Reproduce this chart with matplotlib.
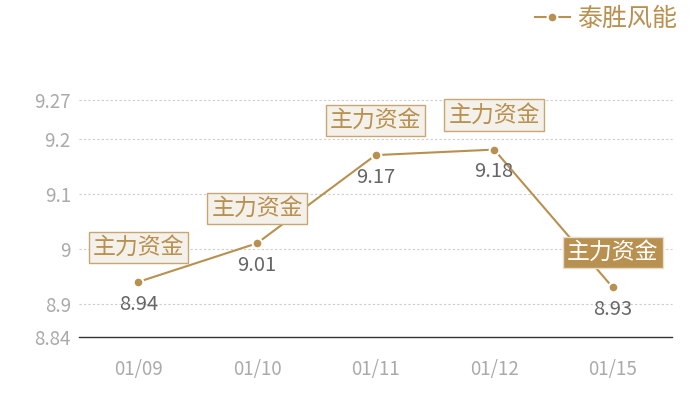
import matplotlib
matplotlib.use('Agg')
from matplotlib import pyplot as plt

plt.rcParams['font.family'] = ['Noto Sans CJK SC', 'DejaVu Sans']

dates = ['01/09', '01/10', '01/11', '01/12', '01/15']
prices = [8.94, 9.01, 9.17, 9.18, 8.93]
mark_text = '主力资金'
highlight = [False, False, False, False, True]
y_ticks = [8.84, 8.9, 9, 9.1, 9.2, 9.27]
y_tick_labels = ['8.84', '8.9', '9', '9.1', '9.2', '9.27']
series_name = '泰胜风能'

gold = '#b8904f'

fig = plt.figure(figsize=(7, 4), dpi=100)
ax = fig.add_axes([0.113, 0.1575, 0.847, 0.5925])

x = list(range(len(dates)))
line, = ax.plot(x, prices, color=gold, lw=1.5, marker='o', markersize=7,
                markerfacecolor=gold, markeredgecolor='white', markeredgewidth=1.5,
                zorder=3, clip_on=False, label=series_name)

for i, v in enumerate(prices):
    ax.annotate(f'{v:g}', (i, v), xytext=(0, -16), textcoords='offset points',
                ha='center', va='center', fontsize=14.5, color='#666666', zorder=4)
    if highlight[i]:
        box = dict(boxstyle='square,pad=0.18', fc=gold, ec='#e8dccb', lw=1)
        tc = 'white'
    else:
        box = dict(boxstyle='square,pad=0.18', fc='#f4f0ea', ec='#c9a772', lw=1)
        tc = gold
    ax.annotate(mark_text, (i, v), xytext=(0, 25), textcoords='offset points',
                ha='center', va='center', fontsize=16.5, color=tc, bbox=box,
                zorder=5, annotation_clip=False)

ax.set_xlim(-0.5, len(dates) - 0.5)
ax.set_ylim(8.84, 9.27)
ax.set_yticks(y_ticks)
ax.set_yticklabels(y_tick_labels)
ax.set_xticks(x)
ax.set_xticklabels(dates)
ax.tick_params(axis='both', length=0, labelsize=13.5, labelcolor='#aaaaaa')
ax.tick_params(axis='y', pad=6)
ax.tick_params(axis='x', pad=16)

for t in y_ticks[1:]:
    ax.axhline(t, color='#cccccc', lw=0.8, ls=(0, (2, 2)), zorder=1, clip_on=False)
for s in ['top', 'right', 'left']:
    ax.spines[s].set_visible(False)
ax.spines['bottom'].set_color('#333333')
ax.spines['bottom'].set_linewidth(1)

fig.legend(handles=[line], loc='center right', bbox_to_anchor=(0.985, 0.952),
           frameon=False, fontsize=18, labelcolor=gold, handlelength=1.4,
           handletextpad=0.3, borderpad=0)

fig.savefig('out.png', dpi=100, facecolor='white')
